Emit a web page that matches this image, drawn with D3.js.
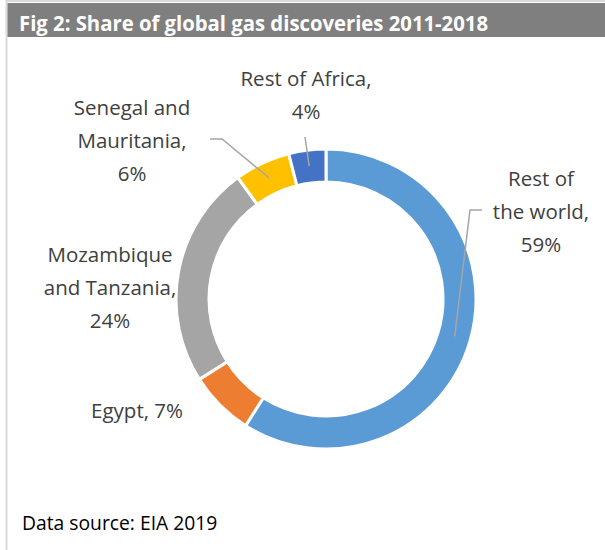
<!DOCTYPE html>
<html>
<head>
<meta charset="utf-8">
<script src="https://cdn.jsdelivr.net/npm/d3@7"></script>
<style>
  html, body { margin: 0; padding: 0; background: #fff; }
  svg { display: block; }
</style>
</head>
<body>
<svg id="chart" width="605" height="550"></svg>
<script>
// ---- data ----
const categories = ["Rest of the world", "Egypt", "Mozambique and Tanzania", "Senegal and Mauritania", "Rest of Africa"];
const shares = [59, 7, 24, 6, 4];
const labelLines = [
  ["Rest of", "the world,", "59%"],
  ["Egypt, 7%"],
  ["Mozambique", "and Tanzania,", "24%"],
  ["Senegal and", "Mauritania,", "6%"],
  ["Rest of Africa,", "4%"]
];
const colors = ["#5B9BD5", "#ED7D31", "#A5A5A5", "#FFC000", "#4472C4"];
const title = "Fig 2: Share of global gas discoveries 2011-2018";
const source = "Data source: EIA 2019";

// ---- layout ----
const svg = d3.select("#chart");
const cx = 326, cy = 299, outerR = 150, innerR = 117;

// frame
svg.append("line").attr("x1", 6.5).attr("x2", 6.5).attr("y1", 0).attr("y2", 550)
  .attr("stroke", "#D9D9D9").attr("stroke-width", 2);
svg.append("line").attr("x1", 6).attr("x2", 605).attr("y1", 1).attr("y2", 1)
  .attr("stroke", "#D9D9D9").attr("stroke-width", 2);

// title bar
svg.append("rect").attr("x", 7.5).attr("y", 3).attr("width", 597.5).attr("height", 34).attr("fill", "#7F7F7F");
svg.append("text").attr("x", 19).attr("y", 31)
  .attr("font-family", "'Open Sans', sans-serif").attr("font-weight", 700)
  .attr("font-size", 22).attr("fill", "#fff")
  .attr("textLength", 469).attr("lengthAdjust", "spacingAndGlyphs")
  .text(title);

// donut
const pie = d3.pie().sort(null).value(d => d)(shares);
const arc = d3.arc().innerRadius(innerR).outerRadius(outerR);
const midArc = d3.arc().innerRadius(118).outerRadius(150);
const g = svg.append("g").attr("transform", `translate(${cx},${cy})`);

g.selectAll("path.slice").data(pie).join("path")
  .attr("class", "slice")
  .attr("d", arc)
  .attr("fill", (d, i) => colors[i])
  .attr("stroke", "#fff").attr("stroke-width", 3).attr("stroke-linejoin", "miter");

// label anchor positions (text centre x, first baseline y) and leader elbow points
const labelPos = [
  { x: 541, y: 186, anchor: "middle", leader: [[482, 210], [470, 210]] },
  { x: 183, y: 418, anchor: "end", leader: null },
  { x: 110, y: 262, anchor: "middle", leader: null },
  { x: 132, y: 115, anchor: "middle", leader: [[210, 139], [222, 139]] },
  { x: 306, y: 86, anchor: "middle", leader: [[305, 137]] }
];
const lineH = 33;

// leader lines
pie.forEach((d, i) => {
  const lp = labelPos[i];
  if (!lp.leader) return;
  const c = midArc.centroid(d);
  const pts = lp.leader.concat([[cx + c[0], cy + c[1]]]);
  svg.append("path")
    .attr("d", d3.line()(pts))
    .attr("fill", "none").attr("stroke", "#A5A5A5").attr("stroke-width", 1.5);
});

// labels
labelLines.forEach((lines, i) => {
  const lp = labelPos[i];
  const t = svg.append("text")
    .attr("font-family", "'Open Sans', sans-serif").attr("font-size", 20.5)
    .attr("fill", "#404040").attr("text-anchor", lp.anchor);
  lines.forEach((ln, j) => {
    t.append("tspan").attr("x", lp.x).attr("y", lp.y + j * lineH).text(ln);
  });
});

// source
svg.append("text").attr("x", 22).attr("y", 530)
  .attr("font-family", "'Open Sans', sans-serif").attr("font-size", 19.3)
  .attr("fill", "#000").text(source);
</script>
</body>
</html>
